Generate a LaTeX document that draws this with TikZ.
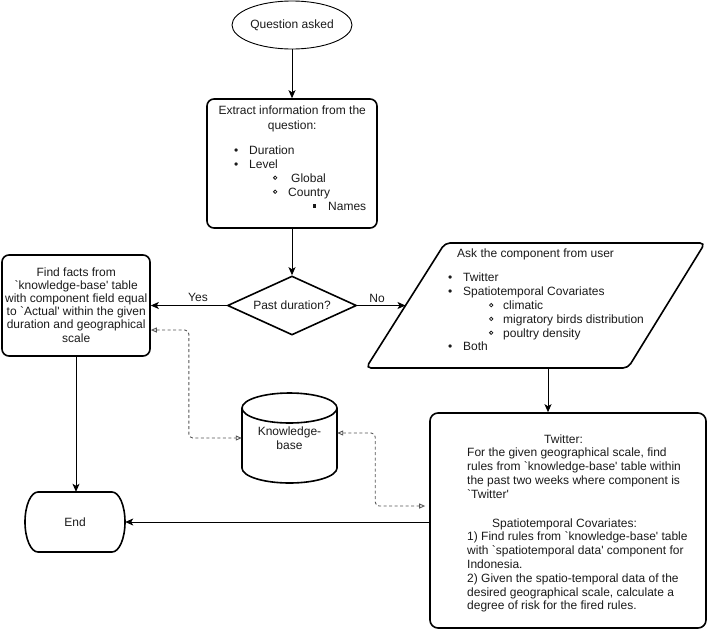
\documentclass[tikz,border=0pt]{standalone}
\usepackage{fontspec}
\newfontfamily\arial{Liberation Sans}
\usetikzlibrary{shapes.geometric,arrows.meta,calc}
\definecolor{txtc}{HTML}{1A1A1A}
\definecolor{dgray}{HTML}{555555}
\newcommand{\mywb}{\raisebox{2.2pt}{\tikz[x=1pt,y=1pt]\draw[line width=0.75pt, draw=txtc] (0,0) circle (1.7pt);}}
\newcommand{\mysq}{\rule[2.5pt]{3.2pt}{3.2pt}}
\begin{document}
\begin{tikzpicture}[x=1pt,y=-1pt,
  every node/.style={font=\arial\fontsize{12}{14}\selectfont, text=txtc},
  shp/.style={draw=black, line width=1.6pt},
  arr/.style={draw=black, line width=0.9pt, -{Stealth[length=8pt,width=7pt,inset=2pt]}},
  dsh/.style={draw=dgray, line width=0.9pt, dash pattern=on 3pt off 2.5pt, rounded corners=4pt,
     {Triangle[open,length=6pt,width=5pt]}-{Triangle[open,length=6pt,width=5pt]}},
  txt/.style={inner sep=0pt, anchor=base west}]
\useasboundingbox (0,0) rectangle (708,632);

% start
\node[ellipse, draw=black, line width=0.9pt, minimum width=120pt, minimum height=48pt, inner sep=0pt] (q) at (292,25) {Question asked};

% extract box
\node[shp, rounded corners=7pt, minimum width=170pt, minimum height=129pt, inner sep=0pt] (ex) at (292,163.5) {};
\node[txt] (ext) at (207,114) {\parbox[t]{170pt}{%
\makebox[170pt][c]{Extract information from the}\\[1pt]%
\makebox[170pt][c]{question:}\\[11pt]%
\hspace*{29pt}\makebox[0pt]{•}\hspace*{13pt}Duration\\%
\hspace*{29pt}\makebox[0pt]{•}\hspace*{13pt}Level\\%
\hspace*{68pt}\makebox[0pt]{\mywb}\hspace*{16pt}Global\\%
\hspace*{68pt}\makebox[0pt]{\mywb}\hspace*{13pt}Country\\%
\hspace*{107pt}\makebox[0pt]{\mysq}\hspace*{14pt}Names}};

% decision
\node[diamond, shp, aspect=2.2, minimum width=129pt, minimum height=59pt, inner sep=0pt] (pd) at (292,305.5) {Past duration?};

% find facts box
\node[shp, rounded corners=7pt, minimum width=148pt, minimum height=101pt, inner sep=0pt] (ff) at (76,305.5) {};
\node[txt] (fft) at (2,276) {\parbox[t]{148pt}{\centering\fontsize{12}{13.2}\selectfont
Find facts from\\`knowledge-base' table\\with component field equal\\to `Actual' within the given\\duration and geographical\\scale}};

% ask parallelogram
\coordinate (pTL) at (445,243);
\coordinate (pTR) at (705,243);
\coordinate (pBR) at (628,368);
\coordinate (pBL) at (366,368);
\draw[shp, rounded corners=5pt] (pTL) -- (pTR) -- (pBR) -- (pBL) -- cycle;
\coordinate (askL) at ($(pTL)!0.5!(pBL)$);
\coordinate (askB) at (548,368);
\node[txt] (askt) at (440,257) {\parbox[t]{240pt}{\fontsize{12}{13.8}\selectfont
\hspace*{17pt}Ask the component from user\\[11pt]%
\hspace*{10pt}\makebox[0pt]{•}\hspace*{13pt}Twitter\\%
\hspace*{10pt}\makebox[0pt]{•}\hspace*{13pt}Spatiotemporal Covariates\\%
\hspace*{51pt}\makebox[0pt]{\mywb}\hspace*{12pt}climatic\\%
\hspace*{51pt}\makebox[0pt]{\mywb}\hspace*{12pt}migratory birds distribution\\%
\hspace*{51pt}\makebox[0pt]{\mywb}\hspace*{12pt}poultry density\\%
\hspace*{10pt}\makebox[0pt]{•}\hspace*{13pt}Both}};

% twitter box
\node[shp, rounded corners=8pt, minimum width=276pt, minimum height=215pt, inner sep=0pt] (tw) at (568,520.5) {};
\node[txt] (twt) at (467,443) {\parbox[t]{240pt}{\raggedright\fontsize{12}{13.8}\selectfont
\hspace*{77pt}Twitter:\\%
For the given geographical scale, find\\%
rules from `knowledge-base' table within\\%
the past two weeks where component is\\%
`Twitter'\\[15pt]%
\hspace*{25pt}Spatiotemporal Covariates:\\%
1) Find rules from `knowledge-base' table\\%
with `spatiotemporal data' component for\\%
Indonesia.\\%
2) Given the spatio-temporal data of the\\%
desired geographical scale, calculate a\\%
degree of risk for the fired rules.}};

% knowledge base cylinder
\node[minimum width=95pt, minimum height=90pt, inner sep=0pt, align=center] (kb) at (289.5,438) {Knowledge-\\base};
\draw[shp] (242,408) -- (242,468) arc[start angle=180, end angle=360, x radius=47.5pt, y radius=15pt] -- (337,408);
\draw[shp] (289.5,408) ellipse [x radius=47.5pt, y radius=15pt];

% end terminator
\node[minimum width=100pt, minimum height=60pt, inner sep=0pt] (en) at (75,522) {End};
\draw[shp] (38,492) -- (112,492) arc[start angle=90, end angle=-90, x radius=13pt, y radius=30pt]
  -- (38,552) arc[start angle=270, end angle=90, x radius=13pt, y radius=30pt] -- cycle;

% labels
\node (yes) at (198,297) {Yes};
\node (no) at (377,298) {No};

% connectors
\draw[arr] (q.south) -- (ex.north);
\draw[arr] (ex.south) -- (pd.north);
\draw[arr] (pd.west) -- (ff.east);
\draw[arr] (pd.east) -- (askL);
\draw[arr] (askB) -- (askB |- tw.north);
\draw[arr] (ff.south) -- (ff.south |- en.north);
\draw[arr] (tw.west |- en.east) -- (en.east);
\draw[dsh] ([yshift=-24.5pt]ff.east) -- ++(38,0) |- (kb.west);
\draw[dsh, shorten >=4pt] ([yshift=5pt]kb.east) -- ++(38,0) |- ([yshift=14.5pt]tw.west);
\end{tikzpicture}
\end{document}
